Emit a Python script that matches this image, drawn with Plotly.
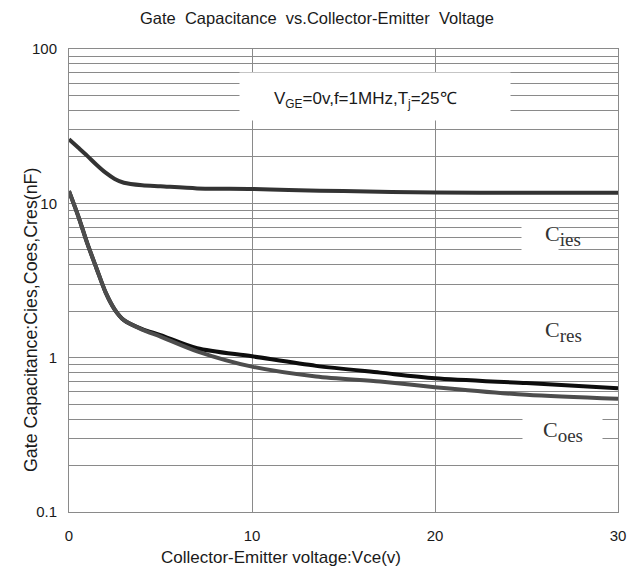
import plotly.graph_objects as go

# ---- data ----
vce_ies = [0, 0.5, 1, 1.5, 2, 2.5, 3, 4, 5, 7, 10, 12, 15, 20, 25, 30]
cies = [26, 23, 20.3, 17.8, 15.8, 14.4, 13.6, 13.1, 12.9, 12.5, 12.4, 12.2, 12.0, 11.75, 11.7, 11.7]

vce_low = [0, 0.5, 1, 1.5, 2, 2.5, 3, 4, 5, 7, 10, 13.5, 17, 20, 25, 30]
cres = [12, 8.3, 5.5, 3.8, 2.65, 2.05, 1.75, 1.53, 1.40, 1.15, 1.02, 0.885, 0.80, 0.736, 0.684, 0.634]
coes = [12, 8.3, 5.5, 3.8, 2.65, 2.05, 1.75, 1.52, 1.37, 1.10, 0.875, 0.755, 0.70, 0.644, 0.574, 0.541]

x_ticks = [0, 10, 20, 30]
y_ticks = [0.1, 1, 10, 100]
y_ticktext = ["0.1", "1", "10", "100"]

title_text = "Gate  Capacitance  vs.Collector-Emitter  Voltage"
x_title = "Collector-Emitter voltage:Vce(v)"
y_title = "Gate Capacitance:Cies,Coes,Cres(nF)"
cond_text = "V<sub>GE</sub>=0v,f=1MHz,T<sub>j</sub>=25℃"
curve_labels = ["ies", "res", "oes"]

FONT = "Liberation Sans, Arial, sans-serif"
SERIF = "Liberation Serif, Times New Roman, serif"
GRID = "#8a8a8a"
TXT = "#1a1a1a"

# page offset of the figure (browser body margin)
OFF = 8
W, H = 643 - OFF, 572 - OFF
PL, PR, PT, PB = 69, 618, 49, 512   # plot area in page pixels


def px(x):
    return (x - PL) / (PR - PL)


def py(y):
    return (PB - y) / (PB - PT)


fig = go.Figure()
fig.add_trace(go.Scatter(x=vce_ies, y=cies, mode="lines",
                         line=dict(color="#333333", width=4, shape="spline", smoothing=0.8),
                         name="Cies", showlegend=False))
fig.add_trace(go.Scatter(x=vce_low, y=cres, mode="lines",
                         line=dict(color="#0d0d0d", width=4, shape="spline", smoothing=0.8),
                         name="Cres", showlegend=False))
fig.add_trace(go.Scatter(x=vce_low, y=coes, mode="lines",
                         line=dict(color="#4d4d4d", width=4, shape="spline", smoothing=0.8),
                         name="Coes", showlegend=False))

fig.update_layout(
    width=W, height=H,
    margin=dict(l=PL - OFF, r=W - (PR - OFF), t=PT - OFF, b=H - (PB - OFF)),
    paper_bgcolor="white", plot_bgcolor="white",
    font=dict(family=FONT, size=15, color=TXT),
    title=dict(text=title_text, x=(317 - OFF) / W, xref="container", xanchor="center",
               y=1 - (18 - OFF) / H, yref="container", yanchor="middle",
               font=dict(family=FONT, size=16.5, color=TXT)),
    xaxis=dict(range=[0, 30], tickvals=x_ticks, showgrid=True, gridcolor=GRID, gridwidth=1,
               showline=True, linecolor=GRID, linewidth=1, mirror=True, ticks="",
               ticklabelstandoff=10,
               zeroline=False, tickfont=dict(size=15, color=TXT)),
    yaxis=dict(type="log", range=[-1, 2], tickvals=y_ticks, ticktext=y_ticktext,
               showgrid=True, gridcolor=GRID, gridwidth=1,
               minor=dict(dtick="D1", showgrid=True, gridcolor=GRID, gridwidth=1, ticks=""),
               showline=True, linecolor=GRID, linewidth=1, mirror=True, ticks="",
               ticklabelstandoff=8,
               zeroline=False, tickfont=dict(size=15, color=TXT)),
)

annots = [
    dict(text=x_title, x=px(281), y=py(557), xref="paper", yref="paper",
         xanchor="center", yanchor="middle", showarrow=False, font=dict(family=FONT, size=17, color=TXT)),
    dict(text=y_title, x=px(31), y=py(320), xref="paper", yref="paper",
         xanchor="center", yanchor="middle", textangle=-90, showarrow=False,
         font=dict(family=FONT, size=17.8, color=TXT)),
    # white panel behind the test-condition text
    dict(text=" ", x=px(375), y=py(96.5), xref="paper", yref="paper", width=270, height=47,
         xanchor="center", yanchor="middle", showarrow=False, bgcolor="white", borderpad=0),
    dict(text=cond_text, x=px(365), y=py(100), xref="paper", yref="paper",
         xanchor="center", yanchor="middle", showarrow=False,
         font=dict(family=FONT, size=17, color=TXT)),
    # white panels behind curve labels
    dict(text=" ", x=px(540), y=py(238), xref="paper", yref="paper", width=36, height=33,
         xanchor="center", yanchor="middle", showarrow=False, bgcolor="white", borderpad=0),
    dict(text=" ", x=px(562), y=py(432), xref="paper", yref="paper", width=79, height=42,
         xanchor="center", yanchor="middle", showarrow=False, bgcolor="white", borderpad=0),
]
for lab, yy in zip(curve_labels, [235, 332, 431]):
    annots.append(dict(text="C<sub><span style='font-size:19px'>" + lab + "</span></sub>",
                       x=px(563), y=py(yy), xref="paper", yref="paper",
                       xanchor="center", yanchor="middle", showarrow=False,
                       font=dict(family=SERIF, size=22, color="#333333")))
fig.update_layout(annotations=annots)

fig.write_html("out.html")
